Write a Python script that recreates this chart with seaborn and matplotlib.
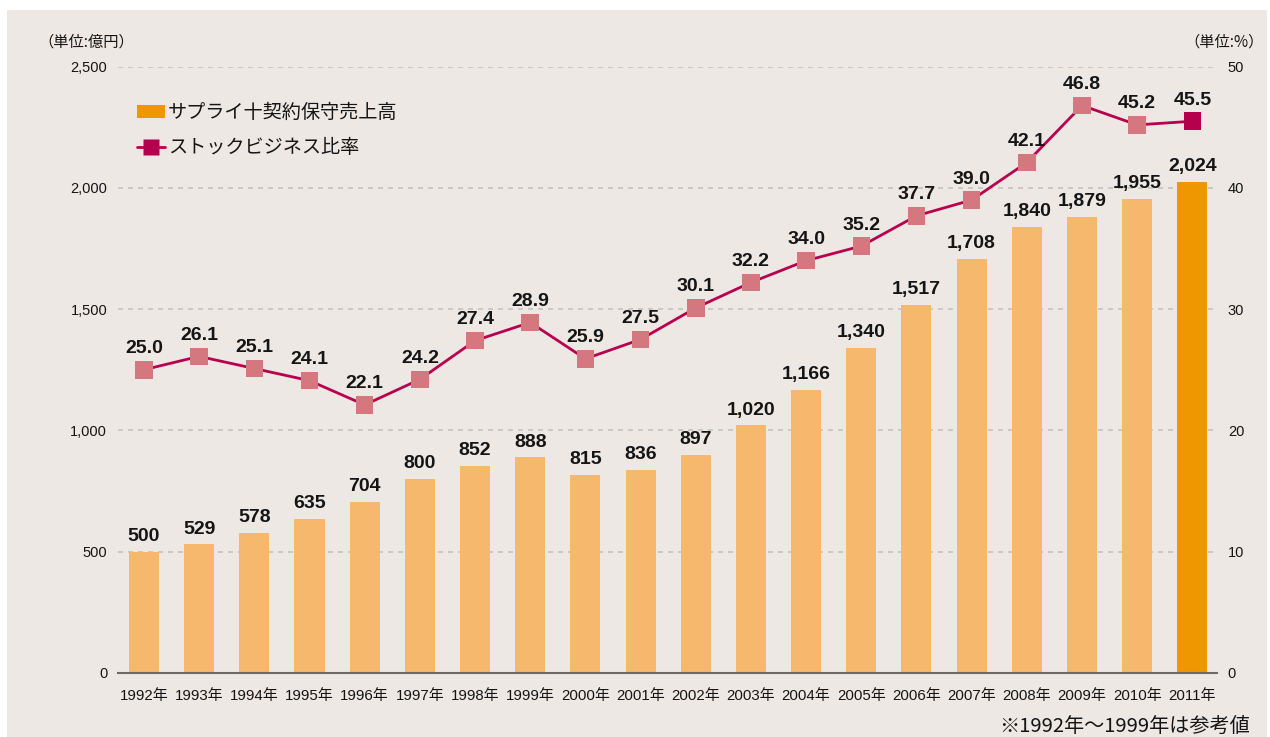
import matplotlib
matplotlib.use("Agg")
import matplotlib.pyplot as plt
from matplotlib.patches import Patch, Rectangle
from matplotlib.lines import Line2D
import seaborn as sns
import pandas as pd

years = ["1992年", "1993年", "1994年", "1995年", "1996年", "1997年", "1998年", "1999年",
         "2000年", "2001年", "2002年", "2003年", "2004年", "2005年", "2006年", "2007年",
         "2008年", "2009年", "2010年", "2011年"]
sales = [500, 529, 578, 635, 704, 800, 852, 888, 815, 836, 897, 1020, 1166, 1340,
         1517, 1708, 1840, 1879, 1955, 2024]
ratio = [25.0, 26.1, 25.1, 24.1, 22.1, 24.2, 27.4, 28.9, 25.9, 27.5, 30.1, 32.2,
         34.0, 35.2, 37.7, 39.0, 42.1, 46.8, 45.2, 45.5]
left_ticks = [0, 500, 1000, 1500, 2000, 2500]
right_ticks = [0, 10, 20, 30, 40, 50]
legend_labels = ["サプライ十契約保守売上高", "ストックビジネス比率"]

BG = "#EDE8E4"
BAR_LIGHT = "#F5B86C"
BAR_DARK = "#EF9700"
LINE = "#B8004F"
MK_LIGHT = "#D4777F"
MK_DARK = "#B5004D"
TXT = "#151515"

sns.set_style("white")
plt.rcParams["font.family"] = ["Liberation Sans", "Noto Sans CJK JP"]
plt.rcParams["text.color"] = TXT
plt.rcParams["xtick.color"] = TXT
plt.rcParams["ytick.color"] = TXT

fig = plt.figure(figsize=(12.7, 7.37), dpi=100)
fig.patch.set_facecolor("white")
fig.add_artist(Rectangle((7 / 1270, 0), 1260 / 1270, 727 / 737, transform=fig.transFigure,
                         facecolor=BG, edgecolor="none", zorder=-10))

ax = fig.add_axes([0.0931, 0.0872, 0.958 - 0.0931, 0.9095 - 0.0872])
ax.set_facecolor("none")

df = pd.DataFrame({"year": years, "sales": sales})
bar_colors = [BAR_LIGHT] * (len(years) - 1) + [BAR_DARK]
sns.barplot(data=df, x="year", y="sales", hue="year", palette=bar_colors, width=0.544,
            saturation=1, legend=False, ax=ax, zorder=2, edgecolor="none", linewidth=0)

ax.set_ylim(0, 2500)
ax.set_yticks(left_ticks)
ax.set_yticklabels([f"{t:,}" for t in left_ticks], fontsize=10.5)
ax.set_xlabel("")
ax.set_ylabel("")
ax.tick_params(axis="y", length=0, pad=8)
ax.tick_params(axis="x", length=0, pad=12, labelsize=10.8)
ax.set_axisbelow(True)
ax.yaxis.grid(True, linestyle=(0, (3, 3)), color="#C6C2BE", linewidth=1.2)
ax.xaxis.grid(False)
for s in ["left", "right", "top"]:
    ax.spines[s].set_visible(False)
ax.spines["bottom"].set_color("#6E6A66")
ax.spines["bottom"].set_linewidth(1.5)
ax.spines["bottom"].set_zorder(5)

for i, v in enumerate(sales):
    ax.annotate(f"{v:,}", (i, v), xytext=(0, 5), textcoords="offset points",
                ha="center", va="bottom", fontsize=14, fontweight="bold", zorder=6)

ax2 = ax.twinx()
ax2.set_facecolor("none")
xs = list(range(len(ratio)))
sns.lineplot(x=xs, y=ratio, ax=ax2, color=LINE, linewidth=2, zorder=3)
mk_colors = [MK_LIGHT] * (len(ratio) - 1) + [MK_DARK]
mk_df = pd.DataFrame({"x": xs, "y": ratio, "c": [str(i) for i in xs]})
sns.scatterplot(data=mk_df, x="x", y="y", hue="c", palette=mk_colors, marker="s", s=160,
                edgecolor="none", linewidth=0, legend=False, ax=ax2, zorder=4)
ax2.set_ylim(0, 50)
ax2.set_yticks(right_ticks)
ax2.set_yticklabels([str(t) for t in right_ticks], fontsize=10.5)
ax2.tick_params(axis="y", length=0, pad=8)
ax2.set_xlabel("")
ax2.set_ylabel("")
for s in ["left", "right", "top", "bottom"]:
    ax2.spines[s].set_visible(False)
ax2.grid(False)
for i, r in enumerate(ratio):
    ax2.annotate(f"{r:.1f}", (i, r), xytext=(0, 9), textcoords="offset points",
                 ha="center", va="bottom", fontsize=14, fontweight="bold", zorder=6)

ax.set_xlim(-0.466, 19.44)
ax2.set_xlim(-0.466, 19.44)

handles = [Patch(facecolor=BAR_DARK, edgecolor="none"),
           Line2D([], [], color=LINE, lw=2, marker="s", markersize=12,
                  markerfacecolor=MK_DARK, markeredgecolor="none")]
leg = ax2.legend(handles, legend_labels, loc="upper left",
                 bbox_to_anchor=(137 / 1270, 1 - 102 / 737), bbox_transform=fig.transFigure,
                 frameon=False, borderpad=0, borderaxespad=0, handlelength=1.45,
                 handletextpad=0.15, labelspacing=0.75,
                 prop={"family": ["Noto Sans CJK JP"], "size": 13.8})

fig.text(38 / 1270, 1 - 42 / 737, "（単位:億円）", ha="left", va="center", fontsize=11,
         family=["Noto Sans CJK JP"])
fig.text(1264 / 1270, 1 - 42 / 737, "（単位:%）", ha="right", va="center", fontsize=11,
         family=["Noto Sans CJK JP"])
fig.text(1250 / 1270, 1 - 726 / 737, "※1992年～1999年は参考値", ha="right", va="center",
         fontsize=14.5, family=["Noto Sans CJK JP"])

fig.savefig("out.png", dpi=100)
